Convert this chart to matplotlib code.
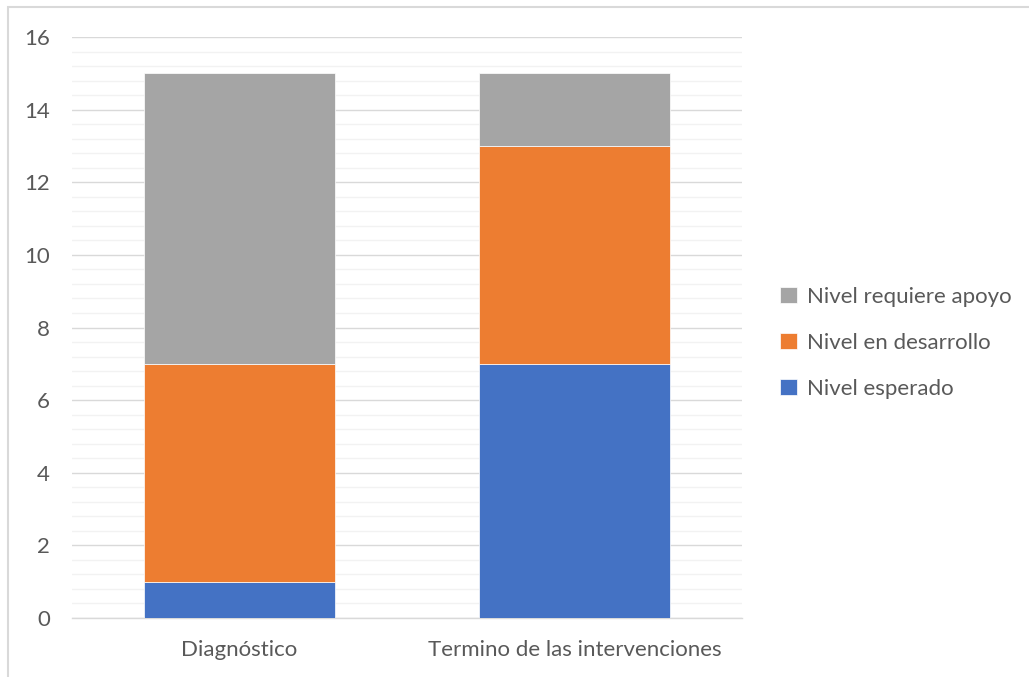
import matplotlib
matplotlib.use("Agg")
import matplotlib.pyplot as plt
from matplotlib.patches import Rectangle
from matplotlib.ticker import MultipleLocator

categories = ["Diagnóstico", "Termino de las intervenciones"]
series_names = ["Nivel esperado", "Nivel en desarrollo", "Nivel requiere apoyo"]
nivel_esperado = [1, 7]
nivel_desarrollo = [6, 6]
nivel_apoyo = [8, 2]
colors = ["#4472C4", "#ED7D31", "#A5A5A5"]
yticks = [0, 2, 4, 6, 8, 10, 12, 14, 16]

plt.rcParams['font.family'] = ['Lato', 'DejaVu Sans']
txt = "#595959"
fs = 16

fig = plt.figure(figsize=(10.29, 6.77), dpi=100)
fig.patch.set_facecolor("white")
fig.patches.append(Rectangle((8/1029, -0.1), 1.2, 1 - 7/677 + 0.1, transform=fig.transFigure,
                             fill=False, edgecolor="#D9D9D9", linewidth=1.5, zorder=0))

ax = fig.add_axes([72/1029, 1 - 618/677, (742 - 72)/1029, (618 - 37)/677])
x = [0, 1]
w = 0.57
series = [nivel_esperado, nivel_desarrollo, nivel_apoyo]
bottom = [0, 0]
bars = []
for vals, c, name in zip(series, colors, series_names):
    b = ax.bar(x, vals, width=w, bottom=bottom, color=c, label=name, zorder=3,
               edgecolor="white", linewidth=0.5)
    bars.append(b)
    bottom = [bo + v for bo, v in zip(bottom, vals)]

ax.set_xlim(-0.5, 1.5)
ax.set_ylim(0, 16)
ax.set_yticks(yticks)
ax.yaxis.set_minor_locator(MultipleLocator(0.4))
ax.grid(axis="y", which="major", color="#D9D9D9", linewidth=1.0, zorder=0)
ax.grid(axis="y", which="minor", color="#F2F2F2", linewidth=1.0, zorder=0)
for s in ["top", "right", "left"]:
    ax.spines[s].set_visible(False)
ax.spines["bottom"].set_color("#D9D9D9")
ax.spines["bottom"].set_linewidth(1.0)
ax.tick_params(axis="both", which="both", length=0, labelcolor=txt, labelsize=fs)
ax.tick_params(axis="y", pad=16)
ax.tick_params(axis="x", pad=16)
ax.set_xticks(x)
ax.set_xticklabels(categories)

handles = [bars[2], bars[1], bars[0]]
labels = [series_names[2], series_names[1], series_names[0]]
leg = fig.legend(handles, labels, loc="center left", bbox_to_anchor=(760/1029, 1 - 343/677),
                 frameon=False, fontsize=fs, labelcolor=txt, handlelength=0.75, handleheight=0.75,
                 handletextpad=0.45, labelspacing=1.17)

fig.savefig("out.png", dpi=100)
